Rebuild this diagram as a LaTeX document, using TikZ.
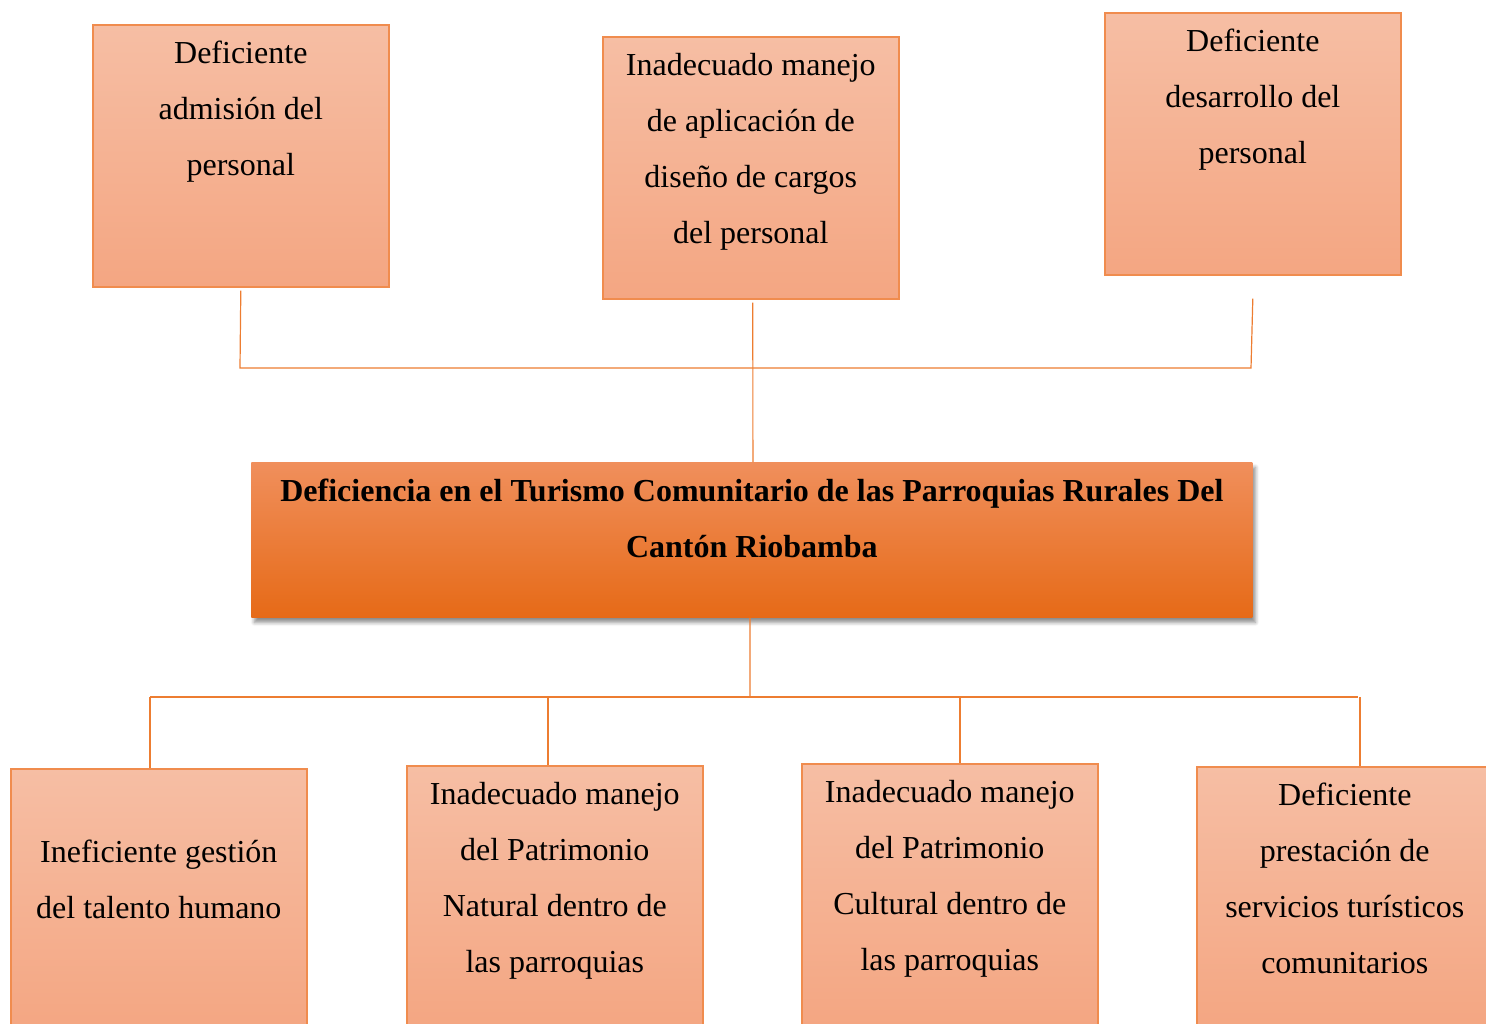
\documentclass[tikz,border=0pt]{standalone}
\usepackage{fontspec}
\setmainfont{Liberation Serif}
\usetikzlibrary{positioning,shadows.blur}
\definecolor{linea}{HTML}{ED7D31}
\definecolor{borde}{HTML}{F08C4E}
\definecolor{cajaA}{HTML}{F6BEA4}
\definecolor{cajaB}{HTML}{F4A682}
\definecolor{centroA}{HTML}{F08F5C}
\definecolor{centroM}{HTML}{F47D2E}
\definecolor{centroB}{HTML}{E66A17}

\begin{document}
\begin{tikzpicture}[x=0.5pt,y=-0.5pt,
  causa/.style={rectangle,draw=borde,line width=0.8pt,top color=cajaA,bottom color=cajaB,
    minimum width=148pt,minimum height=131pt,inner sep=0pt,anchor=north west},
  texto/.style={align=center,font=\fontsize{16}{28}\selectfont,inner sep=0pt,anchor=north},
  problema/.style={rectangle,top color=centroA,middle color=centroM,bottom color=centroB,
    minimum width=500.5pt,minimum height=77.5pt,inner sep=0pt,anchor=north west,
    blur shadow={shadow xshift=1.5pt,shadow yshift=-2.5pt,shadow blur steps=6,shadow opacity=45}},
  enlace/.style={draw=linea,line width=0.6pt}]
\useasboundingbox (0,0) rectangle (1486,1023);
\clip (0,0) rectangle (1486,1023);

\node (t1) [causa] at (92,24) {};
\node (t2) [causa] at (602,36) {};
\node (t3) [causa] at (1104,12) {};
\node (t1txt) [texto] at ([yshift=-8.5pt]t1.north) {Deficiente\\admisión del\\personal};
\node (t2txt) [texto] at ([yshift=-8.5pt]t2.north) {Inadecuado manejo\\de aplicación de\\diseño de cargos\\del personal};
\node (t3txt) [texto] at ([yshift=-8.5pt]t3.north) {Deficiente\\desarrollo del\\personal};

\node (pc) [problema] at (251,462) {};
\node (pctxt) [texto,font=\bfseries\fontsize{16}{28}\selectfont] at ([yshift=-8.5pt]pc.north)
  {Deficiencia en el Turismo Comunitario de las Parroquias Rurales Del\\Cantón Riobamba};

\node (b1) [causa] at (10,768) {};
\node (b2) [causa] at (406,765) {};
\node (b3) [causa] at (801,763) {};
\node (b4) [causa] at (1196,766) {};
\node (b1txt) [texto] at ([yshift=-36pt]b1.north) {Ineficiente gestión\\del talento humano};
\node (b2txt) [texto] at ([yshift=-8.5pt]b2.north) {Inadecuado manejo\\del Patrimonio\\Natural dentro de\\las parroquias};
\node (b3txt) [texto] at ([yshift=-8.5pt]b3.north) {Inadecuado manejo\\del Patrimonio\\Cultural dentro de\\las parroquias};
\node (b4txt) [texto] at ([yshift=-8.5pt]b4.north) {Deficiente\\prestación de\\servicios turísticos\\comunitarios};

\coordinate (e1) at (240,368);
\coordinate (e3) at (1251,368);
\draw[enlace] ([yshift=-1.5pt]t1.south) -- (e1) -- (e3) -- ([yshift=-11.5pt]t3.south);
\draw[enlace] ([yshift=-1.5pt,xshift=1pt]t2.south) -- ([xshift=0.5pt]pc.north);

\coordinate (u0) at (750,697);
\coordinate (u1) at (150,697);
\coordinate (u2) at (548,697);
\coordinate (u3) at (960,697);
\coordinate (u4) at (1360,697);
\draw[enlace] ([xshift=-1pt]pc.south) -- (u0);
\draw[enlace] (u1) -- (1358,697);
\draw[enlace] (u1) -- (u1 |- b1.north);
\draw[enlace] (u2) -- (u2 |- b2.north);
\draw[enlace] (u3) -- (u3 |- b3.north);
\draw[enlace] (u4) -- (u4 |- b4.north);
\end{tikzpicture}
\end{document}
